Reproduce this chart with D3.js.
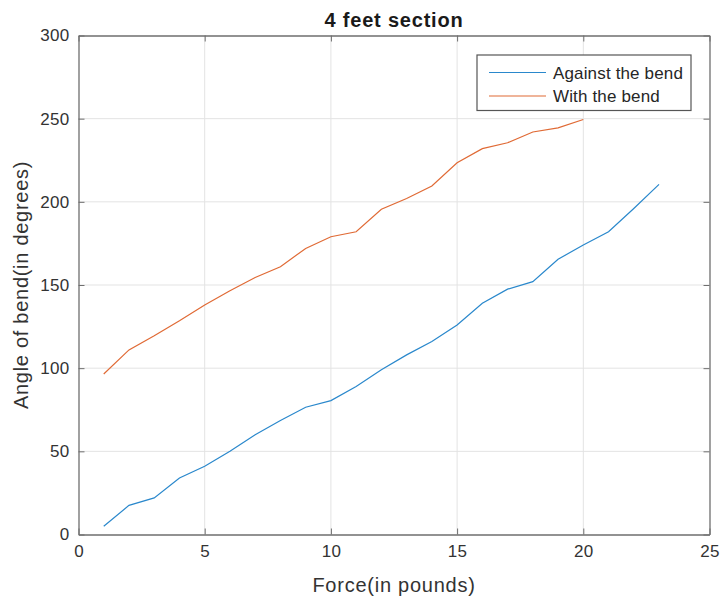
<!DOCTYPE html>
<html>
<head>
<meta charset="utf-8">
<script src="https://cdn.jsdelivr.net/npm/d3@7"></script>
<style>
  body { margin: 0; background: #fff; }
  svg { font-family: "Liberation Sans", Arial, sans-serif; }
</style>
</head>
<body>
<div class="canvas"></div>
<script>
// Data
const forceAgainst = [1, 2, 3, 4, 5, 6, 7, 8, 9, 10, 11, 12, 13, 14, 15, 16, 17, 18, 19, 20, 21, 22, 23];
const angleAgainst = [5, 17.5, 22, 34, 41, 50, 60, 68.5, 76.5, 80.5, 89, 99, 108, 116, 126, 139, 147.5, 152, 165.5, 174, 182, 196, 210.5];
const forceWith = [1, 2, 3, 4, 5, 6, 7, 8, 9, 10, 11, 12, 13, 14, 15, 16, 17, 18, 19, 20];
const angleWith = [96.5, 111, 119.5, 128.5, 138, 146.5, 154.5, 161, 172, 179, 182, 195.5, 202, 209.5, 223.5, 232, 235.5, 242, 244.5, 249.5];
const seriesNames = ['Against the bend', 'With the bend'];
const xTicks = [0, 5, 10, 15, 20, 25];
const yTicks = [0, 50, 100, 150, 200, 250, 300];

// Setup dimensions
const dims = { width: 723, height: 603 };
const plot = { left: 78.5, right: 709.5, top: 35.5, bottom: 534.5 };
const colours = ['#2a88cc', '#e06a35'];

const svg = d3.select('.canvas')
  .append('svg')
  .attr('width', dims.width)
  .attr('height', dims.height);

const x = d3.scaleLinear().domain([0, 25]).range([plot.left, plot.right]);
const y = d3.scaleLinear().domain([0, 300]).range([plot.bottom, plot.top]);

// grid
const grid = svg.append('g');
grid.selectAll('line.vx')
  .data(xTicks.slice(1, -1))
  .enter().append('line')
    .attr('x1', d => x(d)).attr('x2', d => x(d))
    .attr('y1', plot.top).attr('y2', plot.bottom)
    .attr('stroke', '#e3e3e3').attr('stroke-width', 1);
grid.selectAll('line.hy')
  .data(yTicks.slice(1, -1))
  .enter().append('line')
    .attr('x1', plot.left).attr('x2', plot.right)
    .attr('y1', d => y(d)).attr('y2', d => y(d))
    .attr('stroke', '#e3e3e3').attr('stroke-width', 1);

// lines
const line = d3.line().x(d => x(d[0])).y(d => y(d[1]));
const series = [
  d3.zip(forceAgainst, angleAgainst),
  d3.zip(forceWith, angleWith)
];
svg.selectAll('path.series')
  .data(series)
  .enter().append('path')
    .attr('class', 'series')
    .attr('fill', 'none')
    .attr('stroke', (d, i) => colours[i])
    .attr('stroke-width', 1.2)
    .attr('d', line);

// axes (ticks inside, box on)
const styleAxis = (g) => {
  g.select('.domain').attr('stroke', '#6e6e6e').attr('stroke-width', 1.3);
  g.selectAll('.tick line').attr('stroke', '#6e6e6e').attr('stroke-width', 1);
  g.selectAll('text')
    .attr('fill', '#333')
    .attr('font-size', 17)
    .attr('font-family', '"Liberation Sans", Arial, sans-serif')
    .style('letter-spacing', '0.3px');
};

svg.append('g')
  .attr('transform', `translate(0, ${plot.bottom})`)
  .call(d3.axisBottom(x).tickValues(xTicks).tickSizeInner(-6).tickSizeOuter(0).tickPadding(10))
  .call(styleAxis);

svg.append('g')
  .attr('transform', `translate(0, ${plot.top})`)
  .call(d3.axisTop(x).tickValues(xTicks).tickSizeInner(-6).tickSizeOuter(0).tickFormat(''))
  .call(styleAxis);

svg.append('g')
  .attr('transform', `translate(${plot.left}, 0)`)
  .call(d3.axisLeft(y).tickValues(yTicks).tickSizeInner(-6).tickSizeOuter(0).tickPadding(9))
  .call(styleAxis);

svg.append('g')
  .attr('transform', `translate(${plot.right}, 0)`)
  .call(d3.axisRight(y).tickValues(yTicks).tickSizeInner(-6).tickSizeOuter(0).tickFormat(''))
  .call(styleAxis);

// title and labels
svg.append('text')
  .attr('x', (plot.left + plot.right) / 2)
  .attr('y', 26.5)
  .attr('text-anchor', 'middle')
  .attr('font-size', 20)
  .attr('font-weight', 'bold')
  .style('letter-spacing', '0.8px')
  .attr('fill', '#1a1a1a')
  .text('4 feet section');

svg.append('text')
  .attr('x', (plot.left + plot.right) / 2)
  .attr('y', 591.5)
  .attr('text-anchor', 'middle')
  .attr('font-size', 20)
  .style('letter-spacing', '0.75px')
  .attr('fill', '#333')
  .text('Force(in pounds)');

svg.append('text')
  .attr('transform', `translate(27.5, ${(plot.top + plot.bottom) / 2}) rotate(-90)`)
  .attr('text-anchor', 'middle')
  .attr('font-size', 20)
  .style('letter-spacing', '0.72px')
  .attr('fill', '#333')
  .text('Angle of bend(in degrees)');

// legend
const legendGroup = svg.append('g')
  .attr('transform', 'translate(477, 55)');

legendGroup.append('rect')
  .attr('width', 214)
  .attr('height', 55.5)
  .attr('fill', '#fff')
  .attr('stroke', '#555')
  .attr('stroke-width', 1.2);

const items = legendGroup.selectAll('g.item')
  .data(seriesNames)
  .enter().append('g')
    .attr('class', 'item')
    .attr('transform', (d, i) => `translate(0, ${17.5 + i * 23.5})`);

items.append('line')
  .attr('x1', 12).attr('x2', 69)
  .attr('stroke', (d, i) => colours[i])
  .attr('stroke-width', 1.2);

items.append('text')
  .attr('x', 76)
  .attr('y', 6)
  .attr('font-size', 17)
  .style('letter-spacing', '0.15px')
  .attr('fill', '#262626')
  .text(d => d);
</script>
</body>
</html>
